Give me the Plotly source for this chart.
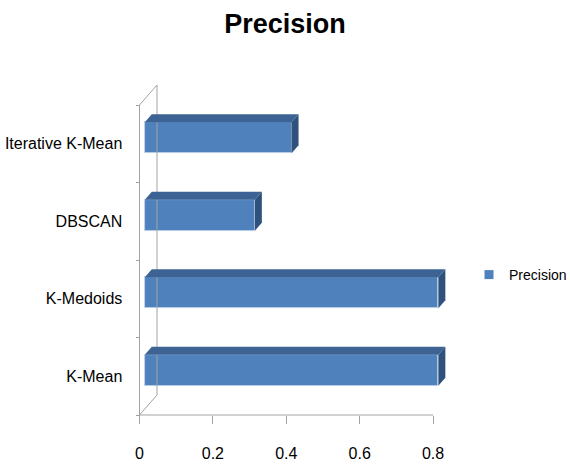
import plotly.graph_objects as go

# ---- data -------------------------------------------------------------
categories = ["K-Mean", "K-Medoids", "DBSCAN", "Iterative K-Mean"]
precision = [0.80, 0.80, 0.30, 0.40]
x_ticks = [0, 0.2, 0.4, 0.6, 0.8]
x_tick_labels = ["0", "0.2", "0.4", "0.6", "0.8"]
series_name = "Precision"

# ---- geometry of the pseudo-3D frame (pixels) -------------------------
W, H = 570, 468
OX, OY = 139.5, 415.0        # front-bottom-left corner of the frame
PX_X = 367.0                  # pixels per unit of precision
PX_Y = 77.5                   # pixels per category slot
L, R, T, B = 136, 452, 80, 418  # plot area edges
DEPTH_PX = (17.5, 20.0)       # wall depth: right, up
F0, FD = 0.30, 0.40           # bar start depth and bar thickness (fractions)
BAR_W = 0.40                  # bar height as a fraction of a slot

dxd = DEPTH_PX[0] / PX_X
dyd = DEPTH_PX[1] / PX_Y
n = len(categories)
idx = list(range(n))

x_range = [(L - OX) / PX_X, (R - OX) / PX_X]
y_range = [-0.5 - (B - OY) / PX_Y, -0.5 + (OY - T) / PX_Y]

FRONT = "#4F81BD"
TOP = "#3D6394"
SIDE = "#2F527D"
EDGE = "#BFD1E8"
WALL = "#A3A3A3"
FONT = "Liberation Sans, Arial, sans-serif"

fig = go.Figure()

# front faces of the bars
fig.add_trace(go.Bar(
    y=idx, x=precision, orientation="h",
    base=F0 * dxd, width=BAR_W, offset=F0 * dyd - BAR_W / 2,
    marker=dict(color=FRONT, line=dict(color=EDGE, width=0.8)),
    showlegend=False, name=series_name,
))

# legend entry
fig.add_trace(go.Scatter(
    x=[None], y=[None], mode="markers", name=series_name,
    marker=dict(symbol="square", size=9, color=FRONT),
))

shapes = []
line_style = dict(color=WALL, width=1)

# walls: back edge, top and bottom diagonals, front axis lines
shapes.append(dict(type="line", xref="x", yref="y", x0=dxd, x1=dxd,
                   y0=-0.5 + dyd, y1=n - 0.5 + dyd, line=line_style))
shapes.append(dict(type="line", xref="x", yref="y", x0=0, x1=dxd,
                   y0=n - 0.5, y1=n - 0.5 + dyd, line=line_style))
shapes.append(dict(type="line", xref="x", yref="y", x0=0, x1=dxd,
                   y0=-0.5, y1=-0.5 + dyd, line=line_style))
shapes.append(dict(type="line", xref="x", yref="y", x0=0, x1=0,
                   y0=-0.5, y1=n - 0.5, line=line_style))
shapes.append(dict(type="line", xref="x", yref="y", x0=0, x1=x_ticks[-1],
                   y0=-0.5, y1=-0.5, line=line_style))

# top and side faces of every bar
for i, v in zip(idx, precision):
    x0 = F0 * dxd
    x1 = v + F0 * dxd
    yb = i + F0 * dyd - BAR_W / 2
    yt = i + F0 * dyd + BAR_W / 2
    ddx, ddy = FD * dxd, FD * dyd
    top = (f"M{x0},{yt} L{x1},{yt} L{x1 + ddx},{yt + ddy} "
           f"L{x0 + ddx},{yt + ddy} Z")
    side = (f"M{x1},{yb} L{x1},{yt} L{x1 + ddx},{yt + ddy} "
            f"L{x1 + ddx},{yb + ddy} Z")
    shapes.append(dict(type="path", xref="x", yref="y", path=top,
                       fillcolor=TOP, line=dict(width=0)))
    shapes.append(dict(type="path", xref="x", yref="y", path=side,
                       fillcolor=SIDE, line=dict(width=0)))

fig.update_layout(
    width=W, height=H,
    margin=dict(l=L, r=W - R, t=T, b=H - B, autoexpand=False),
    paper_bgcolor="white", plot_bgcolor="white",
    font=dict(family=FONT, size=16, color="#000000"),
    title=dict(text=series_name, x=0.5, xref="container",
               y=1 - 24 / H, yref="container", yanchor="middle", xanchor="center",
               font=dict(family=FONT, size=27, weight="bold", color="#000000")),
    xaxis=dict(range=x_range, tickvals=x_ticks, ticktext=x_tick_labels,
               ticks="outside", ticklen=8, tickcolor=WALL, tickwidth=1,
               showline=False, showgrid=False, zeroline=False,
               anchor="free", position=(B - OY) / (B - T),
               ticklabelstandoff=16, tickfont=dict(size=16)),
    yaxis=dict(range=y_range, tickvals=idx, ticktext=categories,
               ticks="outside", ticklen=0, tickcolor="rgba(0,0,0,0)",
               minor=dict(tickvals=[k - 0.5 for k in range(n + 1)],
                          ticks="outside", ticklen=4, tickcolor=WALL, tickwidth=1,
                          showgrid=False),
               showline=False, showgrid=False, zeroline=False,
               anchor="free", position=(OX - L) / (R - L),
               ticklabelstandoff=14, tickfont=dict(size=16)),
    legend=dict(xref="container", yref="container",
                x=(509 - 40) / W, y=1 - 275 / H, xanchor="left", yanchor="middle",
                font=dict(size=14), bgcolor="rgba(0,0,0,0)"),
    shapes=shapes,
    bargap=0,
)

fig.write_html("out.html")
